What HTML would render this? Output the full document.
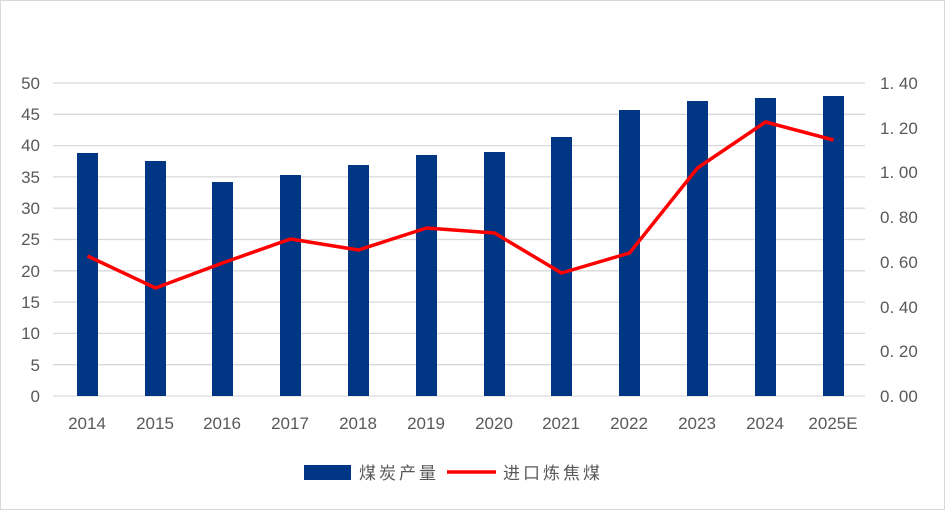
<!DOCTYPE html>
<html><head><meta charset="utf-8"><style>
body{margin:0;background:#fff}
svg{display:block}
text{font-family:"Liberation Sans","Noto Sans CJK SC",sans-serif;fill:#595959}
</style></head><body>
<svg width="945" height="510" xmlns="http://www.w3.org/2000/svg">
<rect x="0.5" y="0.5" width="944" height="509" fill="#fff" stroke="#d9d9d9"/>
<g stroke="#d9d9d9" stroke-width="1.3">
<line x1="53" x2="865" y1="83" y2="83"/><line x1="53" x2="865" y1="114.3" y2="114.3"/>
<line x1="53" x2="865" y1="145.6" y2="145.6"/><line x1="53" x2="865" y1="176.9" y2="176.9"/>
<line x1="53" x2="865" y1="208.2" y2="208.2"/><line x1="53" x2="865" y1="239.5" y2="239.5"/>
<line x1="53" x2="865" y1="270.8" y2="270.8"/><line x1="53" x2="865" y1="302.1" y2="302.1"/>
<line x1="53" x2="865" y1="333.4" y2="333.4"/><line x1="53" x2="865" y1="364.7" y2="364.7"/>
<line x1="53" x2="865" y1="396" y2="396"/>
</g>
<g font-size="17" text-anchor="end">
<text x="40" y="89">50</text><text x="40" y="120">45</text><text x="40" y="151">40</text>
<text x="40" y="183">35</text><text x="40" y="214">30</text><text x="40" y="245">25</text>
<text x="40" y="277">20</text><text x="40" y="308">15</text><text x="40" y="339">10</text>
<text x="40" y="371">5</text><text x="40" y="402">0</text>
</g>
<g font-size="17" text-anchor="start">
<text x="880" y="89">1. 40</text><text x="880" y="134">1. 20</text><text x="880" y="178">1. 00</text>
<text x="880" y="223">0. 80</text><text x="880" y="268">0. 60</text><text x="880" y="313">0. 40</text>
<text x="880" y="357">0. 20</text><text x="880" y="402">0. 00</text>
</g>
<g fill="#003683">
<rect x="77" y="153" width="21" height="243"/>
<rect x="145" y="161" width="21" height="235"/>
<rect x="212" y="182" width="21" height="214"/>
<rect x="280" y="175" width="21" height="221"/>
<rect x="348" y="165" width="21" height="231"/>
<rect x="416" y="155" width="21" height="241"/>
<rect x="484" y="152" width="21" height="244"/>
<rect x="551" y="137" width="21" height="259"/>
<rect x="619" y="110" width="21" height="286"/>
<rect x="687" y="101" width="21" height="295"/>
<rect x="755" y="98" width="21" height="298"/>
<rect x="823" y="96" width="21" height="300"/>
</g>
<polyline fill="none" stroke="#ff0000" stroke-width="3.5" stroke-linejoin="round" points="87.5,256 155.5,288 222.5,263 290.5,239 358.5,250 426.5,228 494.5,233 561.5,273 629.5,253 697.5,168 765.5,122 833.5,140"/>
<g font-size="17" text-anchor="middle">
<text x="87" y="429">2014</text><text x="155" y="429">2015</text><text x="222" y="429">2016</text>
<text x="290" y="429">2017</text><text x="358" y="429">2018</text><text x="426" y="429">2019</text>
<text x="494" y="429">2020</text><text x="561" y="429">2021</text><text x="629" y="429">2022</text>
<text x="697" y="429">2023</text><text x="765" y="429">2024</text><text x="833" y="429">2025E</text>
</g>
<rect x="304" y="465" width="47" height="15" fill="#003683"/>
<text x="359" y="479" font-size="17" letter-spacing="3">煤炭产量</text>
<line x1="447" y1="472" x2="496" y2="472" stroke="#ff0000" stroke-width="3.5"/>
<text x="503" y="479" font-size="17" letter-spacing="3">进口炼焦煤</text>
</svg>
</body></html>
